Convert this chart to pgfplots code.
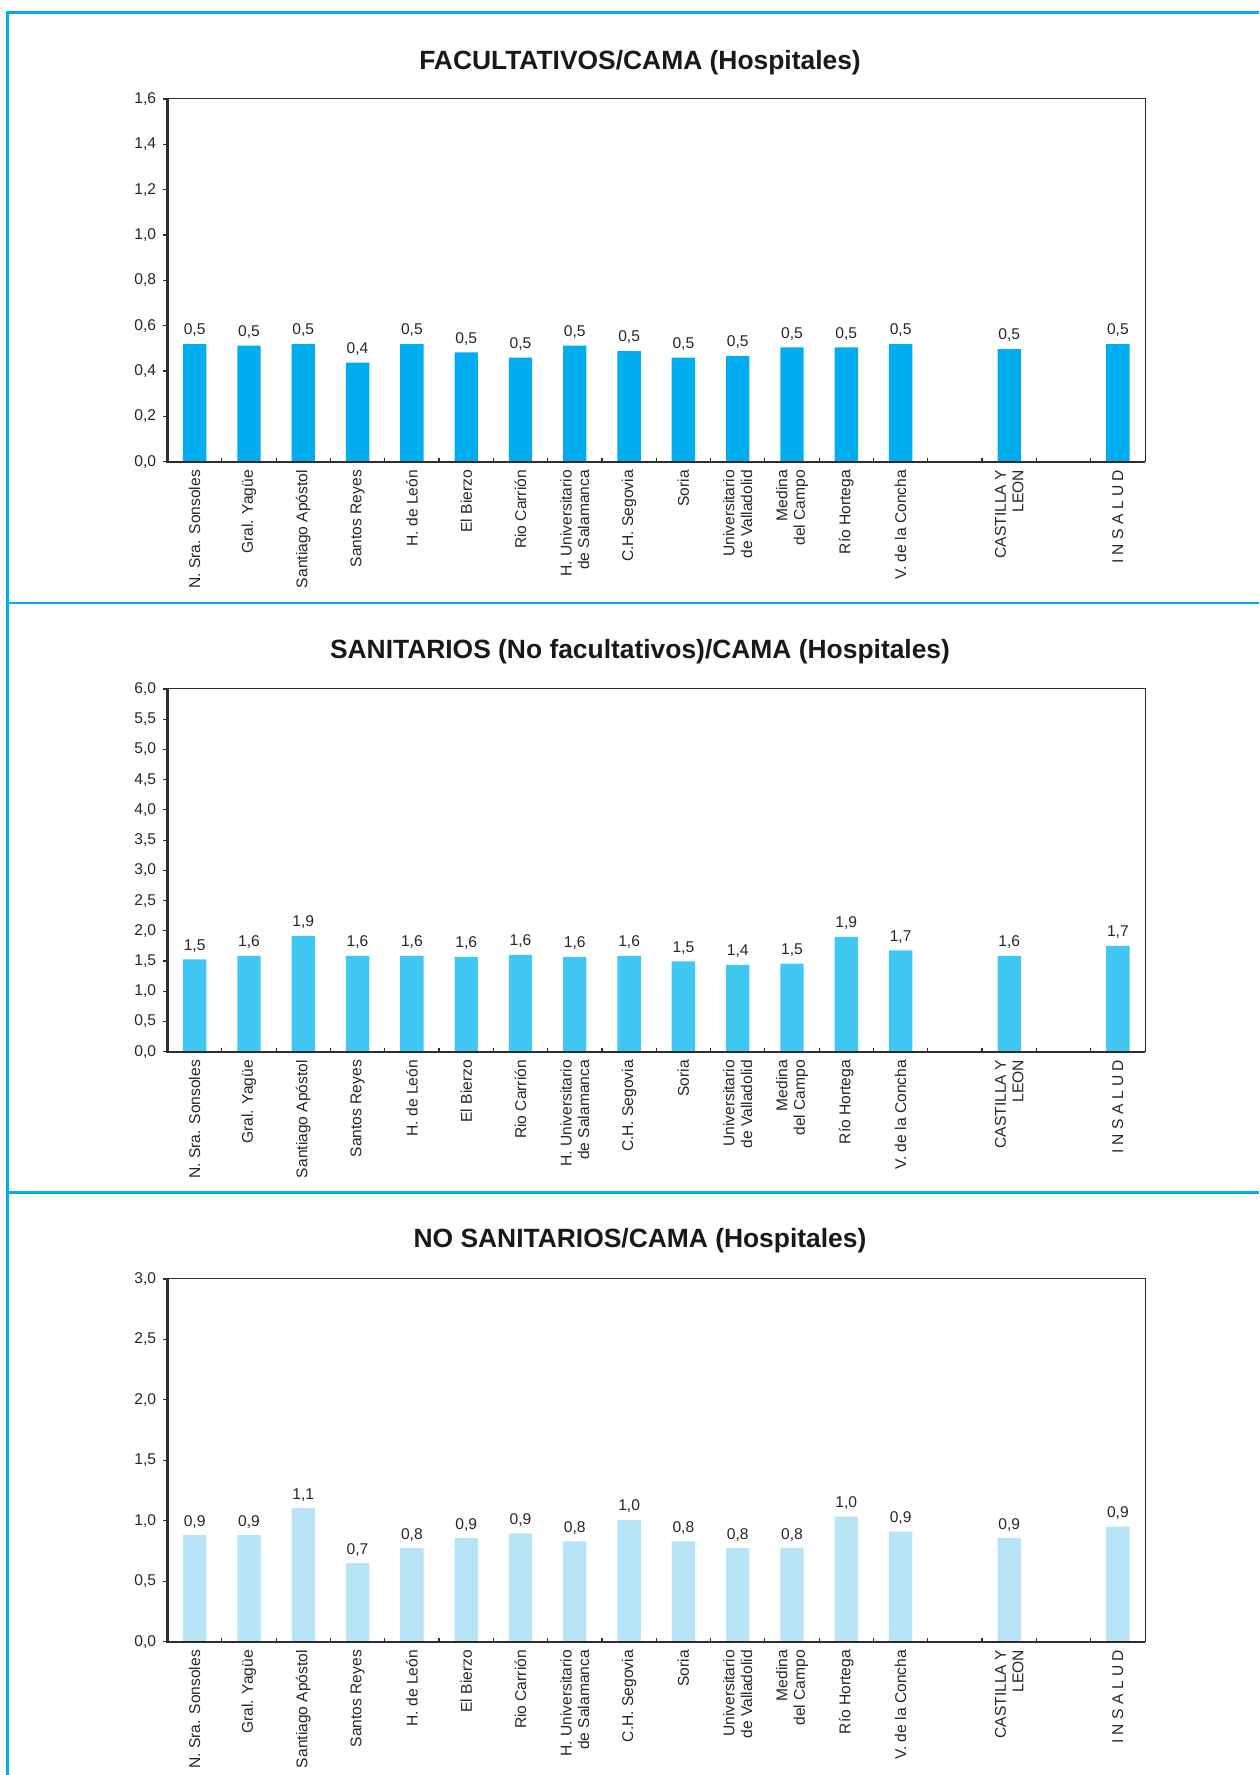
\documentclass[border=0pt]{standalone}
\usepackage{pgfplots}
\pgfplotsset{compat=1.18}
\usepackage{fontspec}
\setmainfont{Liberation Sans}
\definecolor{frameC}{RGB}{0,174,239}
\definecolor{cA}{RGB}{0,174,239}
\definecolor{cB}{RGB}{64,199,242}
\definecolor{cC}{RGB}{184,228,248}
\definecolor{axc}{RGB}{45,45,45}
\newcommand{\smallf}{\fontsize{7.8}{8.8}\selectfont}
\pgfplotsset{hosp/.style={
  scale only axis, width=488.75pt, height=181.35pt, anchor=south west,
  clip=false,
  xmin=0, xmax=18, ymin=0,
  ybar, bar width=0.43,
  xtick={0.5,1.5,2.5,3.5,4.5,5.5,6.5,7.5,8.5,9.5,10.5,11.5,12.5,13.5,15.5,17.5},
  xticklabels={N. Sra. Sonsoles, Gral. Yagüe, Santiago Apóstol, Santos Reyes, H. de León, El Bierzo, Rio Carrión, {H. Universitario\\de Salamanca}, C.H. Segovia, Soria, {Universitario\\de Valladolid}, {Medina\\del Campo}, Río Hortega, V. de la Concha, {CASTILLA Y\\LEON}, I N S A L U D},
  major x tick style={draw=none},
  minor xtick={1,2,...,17},
  xtick align=inside, ytick align=outside,
  xtick pos=bottom, ytick pos=left,
  minor tick length=2pt, major tick length=2.2pt,
  tick style={axc, line width=0.6pt},
  axis line style={axc, line width=0.5pt},
  xticklabel style={rotate=90, anchor=east, align=right, font=\smallf, inner xsep=4pt, inner ysep=0pt, text=black!85},
  yticklabel style={font=\smallf, text=black!85},
  /pgf/number format/assume math mode=true,
  y tick label style={/pgf/number format/fixed, /pgf/number format/fixed zerofill, /pgf/number format/precision=1, /pgf/number format/use comma},
  point meta=explicit symbolic,
  nodes near coords,
  nodes near coords style={font=\smallf, text=black!85},
}}
\begin{document}
\begin{tikzpicture}
\path[use as bounding box] (0,0) rectangle (629.5pt,887.5pt);
% frame lines
\draw[frameC, line width=1.3pt] (3.75pt,0) -- (3.75pt,881.35pt);
\draw[frameC, line width=1.3pt] (3.1pt,881.35pt) -- (629.5pt,881.35pt);
\draw[frameC, line width=1.3pt] (3.1pt,586pt) -- (629.5pt,586pt);
\draw[frameC, line width=1.3pt] (3.1pt,291.15pt) -- (629.5pt,291.15pt);
% titles
\node[font=\fontsize{13.2}{15}\selectfont\bfseries, text=black!90] at (320pt,856.3pt) {FACULTATIVOS/CAMA (Hospitales)};
\node[font=\fontsize{13.2}{15}\selectfont\bfseries, text=black!90] at (320pt,561.8pt) {SANITARIOS (No facultativos)/CAMA (Hospitales)};
\node[font=\fontsize{13.2}{15}\selectfont\bfseries, text=black!90] at (320pt,267pt) {NO SANITARIOS/CAMA (Hospitales)};

\begin{axis}[hosp, at={(83.75pt,656.65pt)}, ymax=1.6, ytick={0,0.2,...,1.6}]
\addplot[fill=cA, draw=none] table[meta=lab] {
x y lab
0.5 0.519 0,5
1.5 0.512 0,5
2.5 0.519 0,5
3.5 0.437 0,4
4.5 0.519 0,5
5.5 0.482 0,5
6.5 0.459 0,5
7.5 0.512 0,5
8.5 0.488 0,5
9.5 0.459 0,5
10.5 0.466 0,5
11.5 0.504 0,5
12.5 0.504 0,5
13.5 0.519 0,5
15.5 0.497 0,5
17.5 0.519 0,5
};
\draw[axc, line width=1.1pt] (rel axis cs:0,1) -- (rel axis cs:0,0) -- (rel axis cs:1,0);
\end{axis}

\begin{axis}[hosp, at={(83.75pt,361.65pt)}, ymax=6, ytick={0,0.5,...,6}]
\addplot[fill=cB, draw=none] table[meta=lab] {
x y lab
0.5 1.529 1,5
1.5 1.584 1,6
2.5 1.915 1,9
3.5 1.584 1,6
4.5 1.584 1,6
5.5 1.567 1,6
6.5 1.600 1,6
7.5 1.567 1,6
8.5 1.584 1,6
9.5 1.496 1,5
10.5 1.435 1,4
11.5 1.457 1,5
12.5 1.898 1,9
13.5 1.678 1,7
15.5 1.584 1,6
17.5 1.749 1,7
};
\draw[axc, line width=1.1pt] (rel axis cs:0,1) -- (rel axis cs:0,0) -- (rel axis cs:1,0);
\end{axis}

\begin{axis}[hosp, at={(83.75pt,66.65pt)}, ymax=3, ytick={0,0.5,...,3}]
\addplot[fill=cC, draw=none] table[meta=lab] {
x y lab
0.5 0.881 0,9
1.5 0.881 0,9
2.5 1.104 1,1
3.5 0.650 0,7
4.5 0.773 0,8
5.5 0.856 0,9
6.5 0.897 0,9
7.5 0.829 0,8
8.5 1.007 1,0
9.5 0.829 0,8
10.5 0.773 0,8
11.5 0.773 0,8
12.5 1.035 1,0
13.5 0.911 0,9
15.5 0.856 0,9
17.5 0.952 0,9
};
\draw[axc, line width=1.1pt] (rel axis cs:0,1) -- (rel axis cs:0,0) -- (rel axis cs:1,0);
\end{axis}
\end{tikzpicture}
\end{document}
